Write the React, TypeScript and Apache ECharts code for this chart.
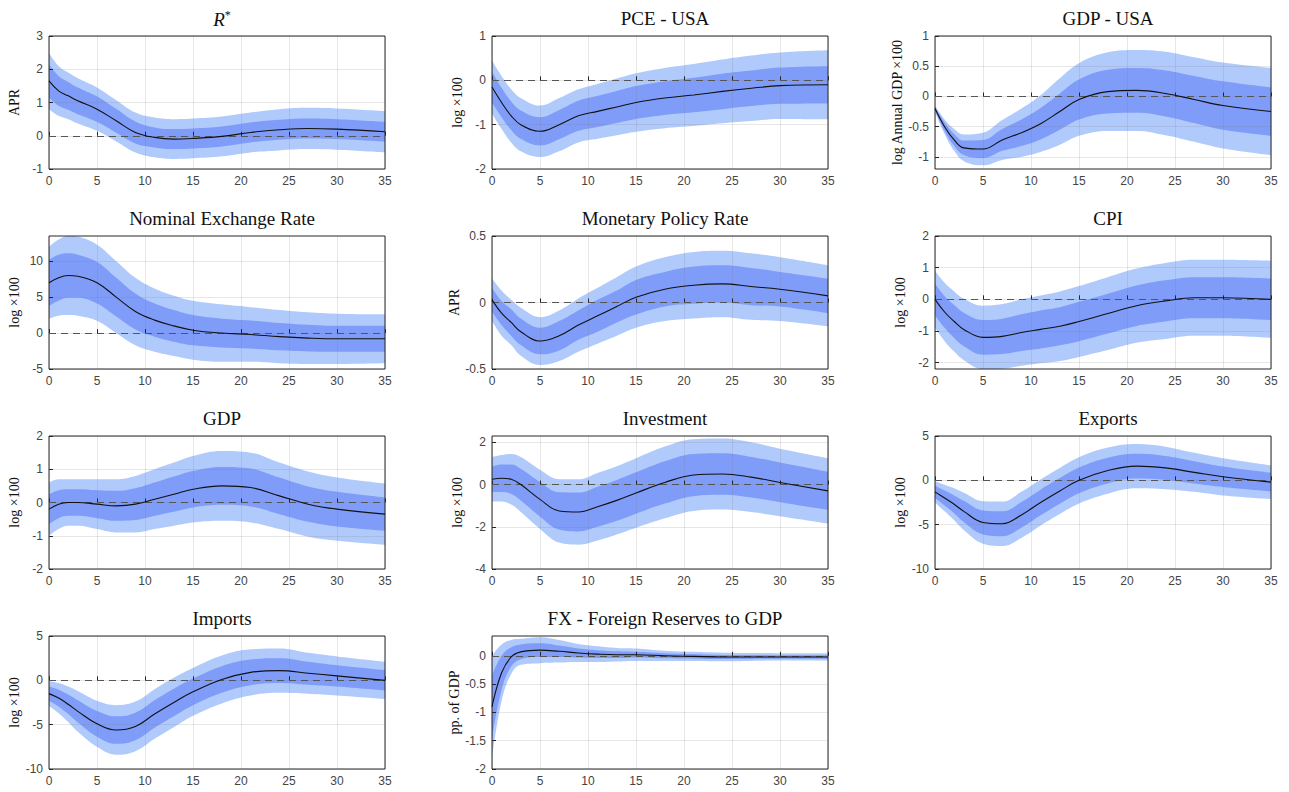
import React, { useEffect, useRef } from "react";
import * as echarts from "echarts";

const xs = [0, 1, 2, 3, 5, 7, 9, 11, 13, 15, 18, 21, 24, 27, 30, 35];

const titles = ["R*", "PCE - USA", "GDP - USA", "Nominal Exchange Rate", "Monetary Policy Rate", "CPI", "GDP", "Investment", "Exports", "Imports", "FX - Foreign Reserves to GDP"];
const yNames = ["APR", "log ×100", "log Annual GDP ×100", "log ×100", "APR", "log ×100", "log ×100", "log ×100", "log ×100", "log ×100", "pp. of GDP"];
const yMin = [-1, -2, -1.2, -5, -0.5, -2.2, -2, -4, -10, -10, -2];
const yMax = [3, 1, 1, 13.5, 0.5, 2, 2, 2.3, 5, 5, 0.35];
const yTicks = [
  [-1, 0, 1, 2, 3], [-2, -1, 0, 1], [-1, -0.5, 0, 0.5, 1], [-5, 0, 5, 10], [-0.5, 0, 0.5], [-2, -1, 0, 1, 2],
  [-2, -1, 0, 1, 2], [-4, -2, 0, 2], [-10, -5, 0, 5], [-10, -5, 0, 5], [-2, -1.5, -1, -0.5, 0],
];

const med = [
  [1.65, 1.35, 1.2, 1.05, 0.8, 0.45, 0.1, -0.05, -0.1, -0.08, -0.02, 0.1, 0.18, 0.22, 0.2, 0.12],
  [-0.15, -0.5, -0.8, -1.0, -1.15, -1.0, -0.8, -0.7, -0.6, -0.5, -0.4, -0.33, -0.25, -0.18, -0.12, -0.1],
  [-0.2, -0.5, -0.72, -0.85, -0.87, -0.72, -0.6, -0.45, -0.25, -0.05, 0.08, 0.1, 0.05, -0.05, -0.15, -0.25],
  [7, 7.7, 8, 7.9, 7, 5, 3, 1.8, 1, 0.4, 0, -0.2, -0.5, -0.7, -0.8, -0.8],
  [0.02, -0.08, -0.15, -0.22, -0.29, -0.25, -0.17, -0.1, -0.03, 0.04, 0.1, 0.13, 0.14, 0.12, 0.1, 0.05],
  [0, -0.4, -0.7, -0.95, -1.2, -1.17, -1.05, -0.95, -0.85, -0.7, -0.45, -0.2, -0.05, 0.05, 0.05, 0.0],
  [-0.2, -0.05, 0, 0, -0.05, -0.1, -0.05, 0.1, 0.25, 0.4, 0.5, 0.45, 0.2, -0.05, -0.2, -0.35],
  [0.25, 0.3, 0.25, 0, -0.7, -1.25, -1.3, -1.05, -0.75, -0.4, 0.1, 0.45, 0.5, 0.35, 0.1, -0.3],
  [-1.3, -2, -2.7, -3.5, -4.75, -4.9, -3.9, -2.5, -1.2, 0, 1.1, 1.6, 1.4, 0.9, 0.4, -0.2],
  [-1.5, -2, -2.7, -3.5, -4.9, -5.6, -5.2, -3.8, -2.5, -1.3, 0.1, 0.9, 1.1, 0.8, 0.5, 0],
  [-0.9, -0.3, -0.02, 0.07, 0.1, 0.08, 0.05, 0.03, 0.02, 0.02, 0, -0.01, -0.02, -0.02, -0.02, -0.02],
];
const w90 = [
  [0.85, 0.75, 0.7, 0.68, 0.65, 0.62, 0.6, 0.6, 0.6, 0.6, 0.6, 0.6, 0.62, 0.62, 0.62, 0.62],
  [0.6, 0.6, 0.6, 0.6, 0.58, 0.6, 0.6, 0.62, 0.64, 0.66, 0.68, 0.7, 0.72, 0.74, 0.75, 0.78],
  [0.05, 0.12, 0.18, 0.22, 0.27, 0.33, 0.4, 0.47, 0.55, 0.6, 0.65, 0.67, 0.69, 0.7, 0.71, 0.72],
  [5, 5.3, 5.5, 5.5, 5.3, 5.0, 4.7, 4.4, 4.2, 4.1, 4.0, 3.8, 3.7, 3.6, 3.5, 3.4],
  [0.16, 0.17, 0.17, 0.18, 0.18, 0.19, 0.2, 0.21, 0.22, 0.23, 0.24, 0.25, 0.25, 0.25, 0.24, 0.23],
  [0.9, 0.92, 0.95, 0.97, 1.0, 1.02, 1.05, 1.07, 1.1, 1.12, 1.15, 1.17, 1.2, 1.2, 1.2, 1.22],
  [0.8, 0.75, 0.7, 0.7, 0.75, 0.8, 0.85, 0.9, 0.95, 1.0, 1.05, 1.05, 1.0, 0.98, 0.95, 0.92],
  [1.05, 1.1, 1.2, 1.3, 1.4, 1.5, 1.55, 1.6, 1.62, 1.65, 1.7, 1.7, 1.68, 1.65, 1.6, 1.55],
  [1.2, 1.5, 1.8, 2.1, 2.4, 2.5, 2.6, 2.6, 2.6, 2.6, 2.6, 2.5, 2.4, 2.2, 2.1, 1.9],
  [1.4, 1.7, 2.0, 2.3, 2.6, 2.8, 2.8, 2.8, 2.8, 2.7, 2.7, 2.6, 2.5, 2.3, 2.2, 2.1],
  [0.9, 0.5, 0.3, 0.23, 0.23, 0.2, 0.16, 0.14, 0.12, 0.11, 0.09, 0.08, 0.075, 0.07, 0.065, 0.065],
];
const w68 = [
  [0.5, 0.45, 0.42, 0.4, 0.38, 0.36, 0.33, 0.3, 0.3, 0.3, 0.3, 0.3, 0.3, 0.3, 0.3, 0.3],
  [0.35, 0.33, 0.32, 0.32, 0.32, 0.33, 0.34, 0.35, 0.36, 0.37, 0.38, 0.39, 0.4, 0.4, 0.41, 0.42],
  [0.03, 0.07, 0.1, 0.12, 0.15, 0.18, 0.22, 0.26, 0.3, 0.33, 0.36, 0.37, 0.38, 0.39, 0.4, 0.4],
  [3.2, 3.2, 3.1, 3.0, 2.9, 2.7, 2.5, 2.3, 2.2, 2.1, 2.0, 1.95, 1.9, 1.85, 1.8, 1.8],
  [0.09, 0.09, 0.1, 0.1, 0.1, 0.11, 0.11, 0.12, 0.12, 0.13, 0.13, 0.14, 0.14, 0.14, 0.13, 0.13],
  [0.5, 0.5, 0.52, 0.53, 0.55, 0.56, 0.58, 0.6, 0.6, 0.62, 0.63, 0.64, 0.65, 0.65, 0.65, 0.66],
  [0.45, 0.42, 0.4, 0.4, 0.42, 0.45, 0.48, 0.5, 0.53, 0.55, 0.57, 0.57, 0.55, 0.53, 0.52, 0.5],
  [0.6, 0.65, 0.7, 0.75, 0.82, 0.88, 0.92, 0.95, 0.97, 0.98, 1.0, 1.0, 0.98, 0.96, 0.94, 0.9],
  [0.7, 0.85, 1.0, 1.2, 1.35, 1.4, 1.45, 1.45, 1.45, 1.45, 1.45, 1.4, 1.35, 1.25, 1.15, 1.05],
  [0.8, 0.95, 1.1, 1.25, 1.45, 1.55, 1.55, 1.55, 1.55, 1.5, 1.5, 1.45, 1.4, 1.3, 1.2, 1.15],
  [0.55, 0.3, 0.17, 0.13, 0.12, 0.1, 0.08, 0.07, 0.06, 0.05, 0.045, 0.04, 0.035, 0.035, 0.03, 0.03],
];

const LIGHT = "#b1cafc";
const DARK = "#7f9cf8";
const serif = "'Liberation Serif', 'DejaVu Serif', serif";
const sans = "'Liberation Sans', Arial, sans-serif";

function buildOption() {
  const lefts = [49, 492, 935];
  const tops = [36, 236, 436, 636];
  const grid: any[] = [], xAxis: any[] = [], yAxis: any[] = [], series: any[] = [], title: any[] = [];
  titles.forEach((t, i) => {
    const c = i % 3, r = Math.floor(i / 3);
    grid.push({ left: lefts[c], top: tops[r], width: 336, height: 133, show: true, borderColor: "#262626", borderWidth: 1, backgroundColor: "transparent", z: 3 });
    title.push({
      text: i === 0 ? "{i|R}{s|*}" : t,
      left: lefts[c] + 168, top: tops[r] - 32, textAlign: "center",
      textStyle: { fontFamily: serif, fontSize: 19, fontWeight: "normal", color: "#111",
        rich: { i: { fontFamily: serif, fontStyle: "italic", fontSize: 19 }, s: { fontFamily: serif, fontSize: 12, verticalAlign: "top", padding: [0, 0, 8, 0] } } },
    });
    xAxis.push({
      type: "value", gridIndex: i, min: 0, max: 35, interval: 5,
      axisLine: { show: false }, axisTick: { show: true, inside: true, length: 4, lineStyle: { color: "#262626" } },
      splitLine: { show: true, lineStyle: { color: "rgba(120,120,120,0.18)" } },
      axisLabel: { color: "#444", fontFamily: sans, fontSize: 12, margin: 6 },
    });
    yAxis.push({
      type: "value", gridIndex: i, min: yMin[i], max: yMax[i],
      name: yNames[i], nameLocation: "middle", nameGap: i === 2 ? 30 : 28,
      nameTextStyle: { fontFamily: serif, fontSize: 14, color: "#111" },
      axisLine: { show: false },
      axisTick: { show: true, inside: true, length: 4, customValues: yTicks[i], lineStyle: { color: "#262626" } },
      splitLine: { show: true, lineStyle: { color: "rgba(120,120,120,0.18)" } },
      axisLabel: { color: "#444", fontFamily: sans, fontSize: 12, margin: 6, customValues: yTicks[i] },
    });
    const band = (w: number[], sign: number, color: string) => ({
      type: "line", xAxisIndex: i, yAxisIndex: i, smooth: 0.4, symbol: "none", silent: true, z: -1,
      lineStyle: { width: 0 }, areaStyle: { color, opacity: 1, origin: "start" },
      data: xs.map((x, k) => [x, med[i][k] + sign * w[k]]),
    });
    series.push(band(w90[i], 1, LIGHT));
    series.push(band(w68[i], 1, DARK));
    series.push(band(w68[i], -1, LIGHT));
    series.push(band(w90[i], -1, "#ffffff"));
    series.push({
      type: "line", xAxisIndex: i, yAxisIndex: i, smooth: 0.4, symbol: "none", silent: true, z: 5,
      data: xs.map((x, k) => [x, med[i][k]]), lineStyle: { color: "#111", width: 1.1 },
      markLine: { symbol: "none", silent: true, label: { show: false }, lineStyle: { color: "#555", type: [7, 5], width: 1 }, data: [{ yAxis: 0 }] },
    });
  });
  return { animation: false, backgroundColor: "#fff", title, grid, xAxis, yAxis, series };
}

export default function App() {
  const ref = useRef<HTMLDivElement>(null);
  useEffect(() => {
    document.body.style.margin = "0";
    const chart = echarts.init(ref.current!, undefined, { renderer: "svg" });
    chart.setOption(buildOption() as any);
    return () => chart.dispose();
  }, []);
  return <div ref={ref} style={{ width: 1289, height: 792 }} />;
}
